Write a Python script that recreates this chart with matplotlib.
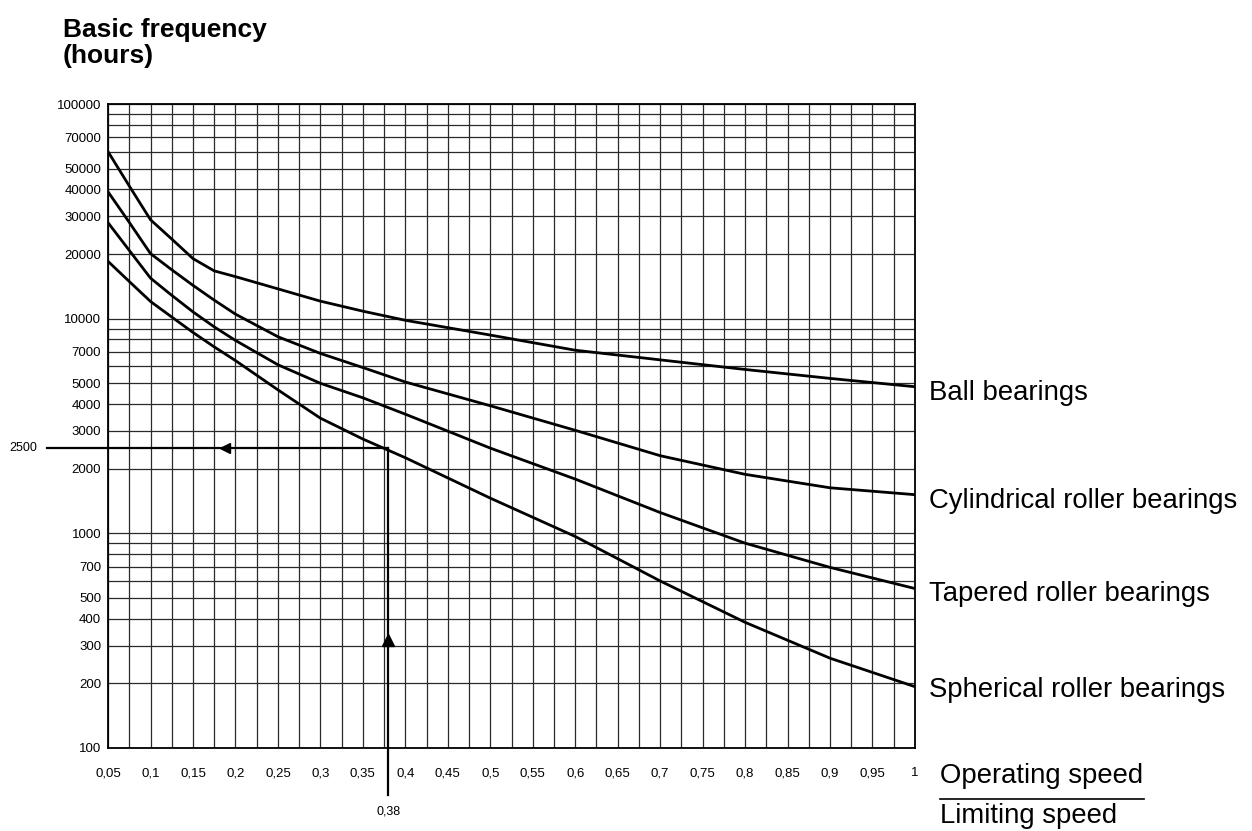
import numpy as np
import matplotlib
matplotlib.use("Agg")
import matplotlib.pyplot as plt
import matplotlib.transforms as mtransforms
from matplotlib.ticker import FixedLocator, FixedFormatter, NullFormatter

plt.rcParams['font.family'] = ['Liberation Sans', 'DejaVu Sans']

# speed ratio (operating / limiting)
speed_ratio = [0.05, 0.075, 0.1, 0.125, 0.15, 0.175, 0.2, 0.25, 0.3, 0.35, 0.4,
               0.5, 0.6, 0.7, 0.8, 0.9, 1.0]

# basic frequency in hours
ball = [60000, 41500, 28900, 23500, 19050, 16700, 15700, 13770, 12070, 10840, 9830,
        8390, 7130, 6430, 5800, 5270, 4820]
cylindrical = [39000, 28100, 20100, 16900, 14300, 12200, 10500, 8240, 6890, 5920, 5070,
               3930, 3020, 2300, 1883, 1630, 1514]
tapered = [28000, 20800, 15450, 12850, 10760, 9160, 7920, 6100, 5000, 4280, 3590,
           2495, 1790, 1250, 900, 694, 553]
spherical = [18500, 14900, 12030, 10180, 8630, 7390, 6380, 4660, 3440, 2750, 2250,
             1459, 967, 600, 385, 262, 193]

curve_names = ["Ball bearings", "Cylindrical roller bearings",
               "Tapered roller bearings", "Spherical roller bearings"]
label_hours = [4500, 1420, 520, 186]

y_ticks = [100000, 70000, 50000, 40000, 30000, 20000, 10000, 7000, 5000, 4000, 3000,
           2000, 1000, 700, 500, 400, 300, 200, 100]
x_ticks = [0.05, 0.1, 0.15, 0.2, 0.25, 0.3, 0.35, 0.4, 0.45, 0.5, 0.55, 0.6, 0.65,
           0.7, 0.75, 0.8, 0.85, 0.9, 0.95, 1.0]
x_labels = ["0,05", "0,1", "0,15", "0,2", "0,25", "0,3", "0,35", "0,4", "0,45", "0,5",
            "0,55", "0,6", "0,65", "0,7", "0,75", "0,8", "0,85", "0,9", "0,95", "1"]

# worked example
ex_ratio = 0.38
ex_hours = 2500

fig = plt.figure(figsize=(12.52, 8.31), dpi=100)
ax = fig.add_axes([0.0863, 0.0999, 0.6445, 0.7749])
ax.set_yscale('log')
ax.set_xlim(0.05, 1.0)
ax.set_ylim(100, 100000)

# grid
ax.yaxis.set_major_locator(FixedLocator(y_ticks))
ax.yaxis.set_major_formatter(FixedFormatter([str(v) for v in y_ticks]))
ax.yaxis.set_minor_locator(FixedLocator([m * 10 ** k for k in range(2, 5) for m in range(1, 10)]))
ax.yaxis.set_minor_formatter(NullFormatter())
ax.xaxis.set_major_locator(FixedLocator(x_ticks))
ax.xaxis.set_major_formatter(FixedFormatter(x_labels))
ax.xaxis.set_minor_locator(FixedLocator(np.arange(0.075, 1.0, 0.05)))
ax.grid(True, which='both', color='#2a2a2a', lw=0.9)
ax.set_axisbelow(True)
ax.tick_params(which='both', length=0)
ax.tick_params(axis='y', labelsize=9.5, pad=5)
ax.tick_params(axis='x', labelsize=9.5, pad=14)
for s in ax.spines.values():
    s.set_linewidth(1.3)
    s.set_color('black')

for ys in [ball, cylindrical, tapered, spherical]:
    ax.plot(speed_ratio, ys, color='black', lw=2.0, solid_capstyle='round')

# example lines with arrows
blend_x = mtransforms.blended_transform_factory(ax.transAxes, ax.transData)
blend_y = mtransforms.blended_transform_factory(ax.transData, ax.transAxes)
ex_frac_x = (ex_ratio - 0.05) / 0.95
ex_frac_y = (np.log10(ex_hours) - 2) / 3
ax.plot([-0.076, ex_frac_x], [ex_hours, ex_hours], color='black', lw=1.6,
        transform=blend_x, clip_on=False)
ax.plot([ex_ratio, ex_ratio], [-0.073, ex_frac_y], color='black', lw=1.6,
        transform=blend_y, clip_on=False)
ax.plot([0.145], [ex_hours], marker='<', color='black', ms=7, transform=blend_x)
ax.plot([ex_ratio], [320], marker='^', color='black', ms=8)
ax.text(-0.088, ex_hours, "2500", transform=blend_x, ha='right', va='center', fontsize=9)
ax.text(ex_ratio, -0.09, "0,38", transform=blend_y, ha='center', va='top', fontsize=9)

# curve labels
for name, yv in zip(curve_names, label_hours):
    ax.text(1.018, yv, name, transform=blend_x, ha='left', va='center', fontsize=19.8)

fig.text(0.05, 0.978, "Basic frequency\n(hours)", ha='left', va='top', fontsize=19,
         fontweight='bold', linespacing=1.1)

fig.text(0.751, 0.066, "Operating speed", ha='left', va='center', fontsize=19.8)
fig.text(0.751, 0.018, "Limiting speed", ha='left', va='center', fontsize=19.8)
fig.add_artist(plt.Line2D([0.751, 0.914], [0.038, 0.038], color='black', lw=1.2))

fig.savefig("out.png", dpi=100)
